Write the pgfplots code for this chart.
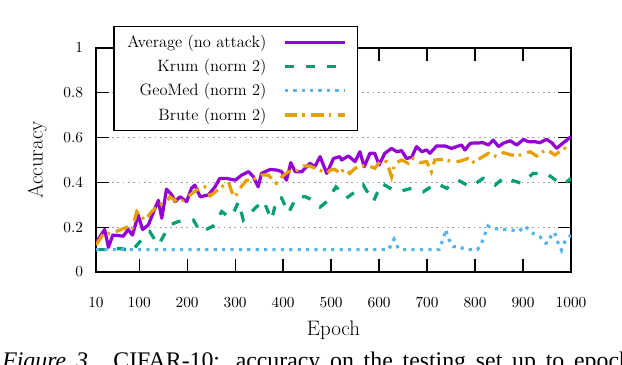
\documentclass[border=0pt]{standalone}
\usepackage{fontspec}
\usepackage{pgfplots}
\pgfplotsset{compat=1.18}
\newfontfamily\capfont{Liberation Serif}

\definecolor{avgc}{HTML}{9400D3}
\definecolor{krumc}{HTML}{009E73}
\definecolor{geomc}{HTML}{56B4E9}
\definecolor{brutec}{HTML}{E69F00}

\begin{document}
\begin{tikzpicture}
\useasboundingbox (-68.57pt,-65.71pt) rectangle (375.71pt,194.29pt);
\clip (-68.57pt,-65.71pt) rectangle (375.71pt,194.29pt);
\begin{axis}[
    at={(0,0)}, anchor=south west,
    scale only axis, width=339.3pt, height=160pt,
    xmin=10, xmax=1000, ymin=0, ymax=1,
    xtick={10,100,200,300,400,500,600,700,800,900,1000},
    ytick={0,0.2,0.4,0.6,0.8,1},
    /pgf/number format/1000 sep={},
    tick align=inside, major tick length=9pt,
    axis line style={line width=1.2pt},
    every tick/.style={black, line width=0.9pt},
    ymajorgrids,
    grid style={gray!75, line width=0.6pt, dash pattern=on 1.2pt off 2.6pt},
    tick label style={font=\fontsize{11}{13}\selectfont},
    xticklabel style={yshift=-14.9pt},
    yticklabel style={xshift=-5.8pt},
    xlabel={Epoch}, ylabel={Accuracy},
    label style={font=\fontsize{15}{17}\selectfont},
    xlabel style={at={(axis description cs:0.5,-0.2856)}, anchor=base},
    ylabel style={at={(axis description cs:-0.1123,0.5)}, anchor=base},
    legend plot pos=right,
    legend cell align=right,
    legend image code/.code={\draw[#1] (0pt,0pt) -- (43pt,0pt);},
    legend style={at={(axis description cs:0.0364,1.098)}, anchor=north west,
        draw=black, line width=1pt, fill=white,
        font=\fontsize{11.75}{13}\selectfont,
        row sep=3pt, column sep=10pt, inner xsep=7.5pt, inner ysep=4pt},
]
\addplot[avgc, line width=2.3pt, line join=round] coordinates {
(10,0.13) (28,0.19) (36,0.11) (45,0.165) (67,0.16) (77,0.19) (86,0.165) (98,0.254)
(107,0.19) (119,0.21) (133,0.284) (140,0.32) (147,0.24) (157,0.37) (168,0.344)
(175,0.314) (185,0.336) (199,0.314) (209,0.374) (216,0.388) (227,0.336) (244,0.344)
(258,0.38) (268,0.418) (282,0.418) (300,0.41) (314,0.433) (328,0.448) (338,0.425)
(348,0.38) (355,0.44) (373,0.458) (387,0.455) (397,0.448) (407,0.41) (416,0.488)
(425,0.448) (439,0.448) (456,0.485) (466,0.47) (477,0.515) (491,0.44) (505,0.507)
(518,0.515) (522,0.5) (536,0.518) (550,0.493) (560,0.537) (569,0.47) (581,0.53)
(591,0.53) (600,0.478) (612,0.53) (626,0.552) (637,0.537) (647,0.542) (657,0.507)
(668,0.512) (678,0.56) (689,0.537) (699,0.545) (706,0.53) (720,0.563) (737,0.563)
(751,0.552) (762,0.56) (772,0.567) (779,0.545) (790,0.575) (817,0.577) (828,0.567)
(838,0.589) (849,0.56) (859,0.575) (873,0.586) (887,0.567) (901,0.592) (911,0.582)
(925,0.582) (935,0.577) (949,0.592) (960,0.577) (970,0.552) (984,0.577) (1000,0.604)
};
\addlegendentry{Average (no attack)}
\addplot[krumc, line width=2.3pt, dash pattern=on 6.5pt off 8.5pt] coordinates {
(10,0.1) (40,0.1) (60,0.105) (75,0.1) (85,0.09) (95,0.12) (108,0.15) (122,0.18)
(140,0.12) (150,0.158) (164,0.21) (181,0.225) (195,0.232) (213,0.232) (227,0.18)
(240,0.19) (254,0.205) (272,0.27) (282,0.254) (293,0.247) (307,0.314) (317,0.232)
(338,0.277) (359,0.32) (376,0.232) (387,0.33) (397,0.33) (411,0.262) (428,0.336)
(446,0.336) (463,0.32) (477,0.29) (491,0.314) (510,0.38) (520,0.36) (532,0.33)
(545,0.35) (567,0.388) (588,0.314) (605,0.396) (630,0.366) (640,0.358) (668,0.374)
(692,0.358) (719,0.396) (741,0.374) (765,0.41) (790,0.38) (817,0.418) (842,0.388)
(862,0.425) (876,0.41) (897,0.396) (921,0.44) (949,0.44) (963,0.418) (980,0.39)
(991,0.403) (1000,0.418)
};
\addlegendentry{Krum (norm 2)}
\addplot[geomc, line width=2.3pt, dash pattern=on 2.3pt off 3.7pt] coordinates {
(10,0.1) (620,0.1) (631,0.146) (640,0.106) (650,0.1) (725,0.1) (734,0.15) (739,0.19)
(744,0.15) (755,0.113) (765,0.115) (780,0.1) (805,0.1) (813,0.125) (820,0.165)
(827,0.205) (838,0.195) (855,0.19) (873,0.19) (890,0.18) (904,0.205) (918,0.175)
(935,0.158) (946,0.13) (953,0.13) (960,0.172) (966,0.175) (973,0.13) (980,0.098)
(987,0.135) (1000,0.165)
};
\addlegendentry{GeoMed (norm 2)}
\addplot[brutec, line width=2.3pt, dash pattern=on 9pt off 3.5pt on 1.8pt off 4.5pt] coordinates {
(10,0.12) (25,0.17) (43,0.173) (63,0.19) (74,0.2) (85,0.19) (95,0.27) (112,0.23)
(126,0.27) (143,0.3) (157,0.314) (164,0.336) (178,0.314) (192,0.32) (206,0.344)
(220,0.366) (237,0.38) (248,0.34) (272,0.38) (286,0.403) (293,0.358) (300,0.336)
(310,0.374) (324,0.41) (338,0.41) (348,0.433) (369,0.433) (386,0.396) (397,0.425)
(411,0.448) (425,0.448) (442,0.473) (456,0.473) (473,0.458) (491,0.44) (498,0.455)
(508,0.458) (518,0.44) (529,0.463) (539,0.44) (550,0.463) (560,0.47) (574,0.478)
(591,0.463) (602,0.493) (616,0.493) (626,0.425) (633,0.485) (647,0.5) (661,0.485)
(671,0.507) (685,0.488) (699,0.493) (709,0.448) (716,0.5) (734,0.503) (751,0.493)
(765,0.493) (786,0.507) (800,0.485) (810,0.507) (828,0.53) (845,0.515) (859,0.533)
(876,0.522) (894,0.522) (915,0.537) (928,0.518) (949,0.548) (966,0.522) (987,0.552)
(1000,0.537)
};
\addlegendentry{Brute (norm 2)}
\end{axis}
\node[anchor=base west, inner sep=0pt] at (-67.1pt,-68.8pt)
    {\capfont\fontsize{17}{20}\selectfont\makebox[449pt][s]{\textit{Figure 3.} CIFAR-10: accuracy on the testing set up to epoch}};
\end{tikzpicture}
\end{document}
